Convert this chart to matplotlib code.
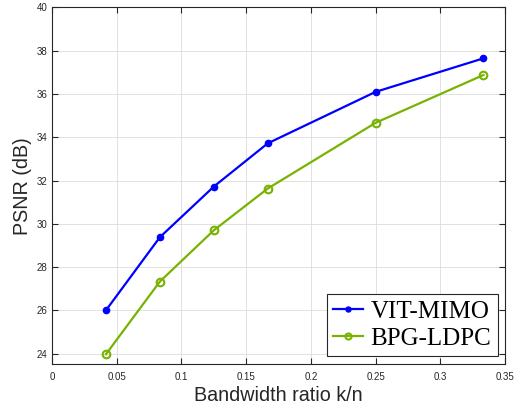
import matplotlib
matplotlib.use('Agg')
import matplotlib.pyplot as plt

# bandwidth ratio k/n
ratio = [1 / 24, 1 / 12, 1 / 8, 1 / 6, 1 / 4, 1 / 3]
vit_mimo = [26.0, 29.38, 31.72, 33.72, 36.1, 37.65]
bpg_ldpc = [23.97, 27.33, 29.7, 31.63, 34.67, 36.88]

xticks = [0, 0.05, 0.1, 0.15, 0.2, 0.25, 0.3, 0.35]
xtick_labels = ['0', '0.05', '0.1', '0.15', '0.2', '0.25', '0.3', '0.35']
yticks = [24, 26, 28, 30, 32, 34, 36, 38, 40]


def main():
    plt.rcParams['font.family'] = ['Liberation Sans', 'DejaVu Sans']
    fig = plt.figure(figsize=(5.18, 4.07), dpi=100)
    ax = fig.add_axes([0.1004, 0.1057, 0.8746, 0.8759])

    ax.plot(ratio, vit_mimo, color='#0000ff', lw=1.6, marker='o',
            ms=4.5, label='VIT-MIMO')
    ax.plot(ratio, bpg_ldpc, color='#77b300', lw=1.6, marker='o',
            ms=5.5, mfc='none', mew=1.5, label='BPG-LDPC')

    ax.set_xlim(0, 0.35)
    ax.set_ylim(23.52, 40)
    ax.set_xticks(xticks)
    ax.set_xticklabels(xtick_labels)
    ax.set_yticks(yticks)
    ax.tick_params(direction='in', length=4, width=0.8, labelsize=7,
                   colors='#262626', top=True, right=True, pad=3.5)
    ax.tick_params(axis='x', pad=5.5)
    ax.grid(True, color='#dcdcdc', lw=0.6)
    for s in ax.spines.values():
        s.set_color('#262626')
        s.set_linewidth(0.8)

    ax.set_xlabel('Bandwidth ratio k/n', fontsize=14.2, color='#262626',
                  labelpad=3)
    ax.set_ylabel('PSNR (dB)', fontsize=14.2, color='#262626', labelpad=3)

    leg = ax.legend(loc='lower right', prop={'family': 'Liberation Serif',
                                             'size': 18},
                    fancybox=False, edgecolor='#262626', framealpha=1,
                    handlelength=1.2, handletextpad=0.3, borderpad=0.25,
                    labelspacing=0.2, borderaxespad=0.3, markerscale=0.8)
    leg.get_frame().set_linewidth(0.8)

    fig.savefig('out.png', dpi=100)


if __name__ == '__main__':
    main()
